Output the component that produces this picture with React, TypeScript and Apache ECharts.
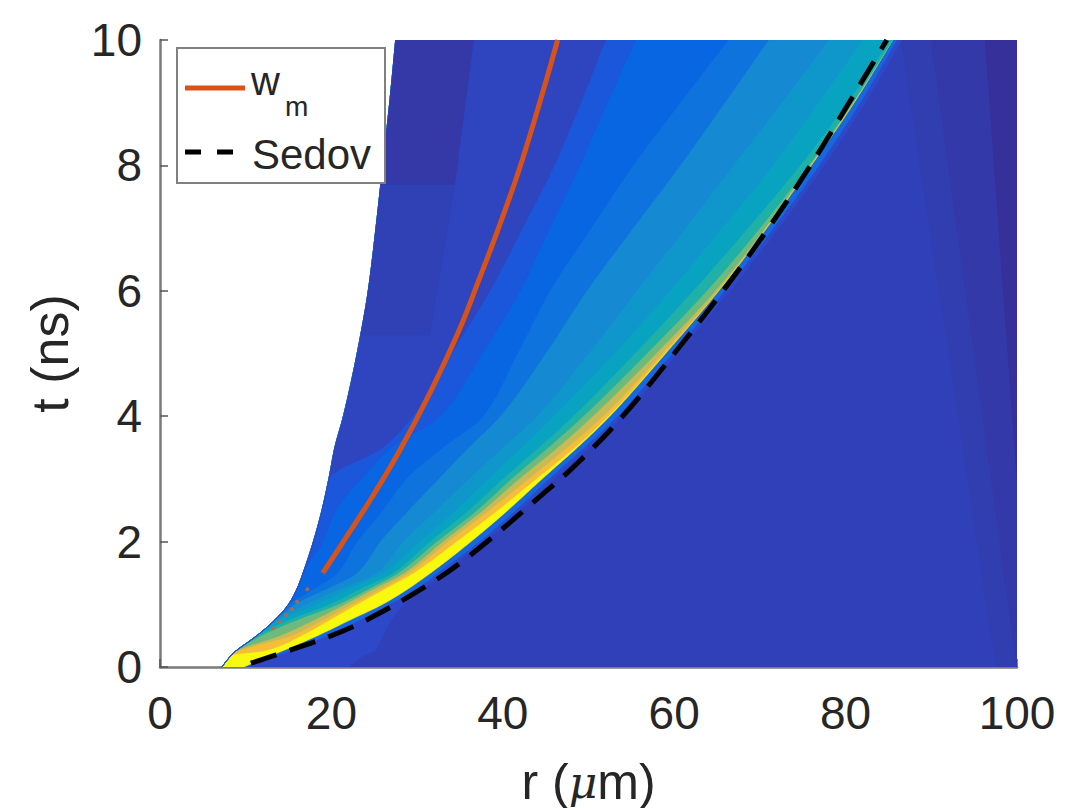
import React, { useEffect, useRef } from "react";
import * as echarts from "echarts";

const FONT = "'Liberation Sans', Arial, sans-serif";
const INK = "#262626";

// time rows (ns) at which the field's colour contours were read
const rowT = [0, 0.2, 0.25, 0.5, 0.75, 1, 1.25, 1.5, 2, 2.5, 3, 3.5, 4, 5, 6, 7, 8, 9, 10];
// inner edge of the field (white to the left of it)
const innerEdge = [7.2, 8.4, 8.8, 11.3, 13.4, 15, 16, 16.7, 17.9, 18.9, 19.7, 20.4, 21.4, 23, 24.3, 25.2, 26, 26.8, 27.5];
// outer limits of each colour band, in r (um), from outermost to innermost
const postShock = [22, 24, 25, 26, 27, 28.5, 30.8, 33, 37.9, 42.1, 46, 50.1, 54, 60.4, 66.5, 72.2, 77.5, 82.3, 86.6];
const fringe = [10, 14, 15, 19.5, 23.4, 26.8, 30, 32.4, 37.3, 41.5, 45.4, 49.5, 53.4, 59.8, 65.9, 71.6, 76.9, 81.7, 86];
const yellow = [9.8, 13.3, 14.2, 18.4, 22.2, 26, 29, 31.6, 36.3, 40.6, 44.6, 48.7, 52.5, 59, 65.2, 70.8, 76, 81, 85.5];
const orange = [7.2, 8.4, 12, 16.5, 19.8, 23, 26.3, 29.6, 34.6, 39.4, 43.9, 48.4, 52.3, 58.9, 65.15, 70.75, 75.95, 80.95, 85.5];
const khaki = [7.2, 8.4, 9, 15.3, 19, 22.4, 25.8, 29, 33.6, 38.4, 43, 47.5, 51.7, 58.6, 65.1, 70.7, 75.9, 80.9, 85.5];
const green = [7.2, 8.4, 8.8, 14, 18, 21.6, 25, 28.5, 33, 37.7, 41.9, 46.4, 50.5, 57.9, 64.8, 70.6, 75.85, 80.9, 85.5];
const seaGreen = [7.2, 8.4, 8.8, 11.8, 16, 20.8, 24.4, 27.8, 32.3, 37, 41, 45.3, 49.4, 56.8, 63.8, 70, 75.7, 80.8, 85.5];
const teal = [7.2, 8.4, 8.8, 11.3, 15, 19.8, 23.4, 27.2, 31.5, 36, 40, 44.2, 48.2, 55.4, 62.2, 68.6, 74.7, 80.2, 85.2];
const cyanBlue = [7.2, 8.4, 8.8, 11.3, 13.8, 18.3, 22, 26, 30.3, 34.5, 38.3, 42.2, 45.9, 53, 59.5, 65.6, 71.5, 76.8, 82];
const skyBlue = [7.2, 8.4, 8.8, 11.3, 13.4, 17, 21, 25.3, 28.4, 32.2, 36, 40, 44, 50, 55.6, 61.3, 66.9, 72.5, 78];
const midBlue = [7.2, 8.4, 8.8, 11.3, 13.4, 15.7, 19.5, 23, 25.7, 29, 32.5, 36, 39.7, 45, 49.8, 55.2, 60.7, 65.9, 71];
const pureBlue = [7.2, 8.4, 8.8, 11.3, 13.4, 15, 18, 20.7, 23, 26, 28.7, 33, 37.7, 41.7, 45.5, 50.3, 55.2, 60.7, 66.3];
const royal = [7.2, 8.4, 8.8, 11.3, 13.4, 15, 16, 16.7, 19, 20.5, 23.5, 27, 32.7, 37.6, 42, 45.5, 49, 52.2, 55.5];
const indigo = [7.2, 8.4, 8.8, 11.3, 13.4, 15, 16, 16.7, 17.9, 18.9, 19.7, 26, 29.5, 34, 38.5, 42.3, 46, 49.1, 52];

const bandCurves = [postShock, fringe, yellow, orange, khaki, green, seaGreen, teal, cyanBlue, skyBlue, midBlue, pureBlue, royal, indigo];
const bandColors = ["#2D48C8", "#1568DE", "#F9F90E", "#F5BD3A", "#C8BB56", "#6EBA7C", "#1FB0A8", "#09A3C2", "#0F97CC", "#1589D2", "#0E73DD", "#0866E3", "#1A57DA", "#2F45C0"];

// stepped dark blocks next to the inner edge: [t0, t1, r at t0, r at t1]
const blockSpans = [[5.3, 7.7, 31.5, 34.4], [7.7, 10, 34.4, 36.6]];
const blockColors = ["#3040B5", "#3539A8"];

// ambient gas beyond the shock: fan wedges ending at r = 100
const fanCorners = [
  [[86.5, 10], [100, 10], [100, 0], [97.5, 0]],
  [[90, 10], [100, 10], [100, 0]],
  [[96.3, 10], [100, 10], [100, 3]],
];
const fanColors = ["#313EB0", "#3339A8", "#36309A"];
const ambientColor = "#3040B8";

const wmT = [1.5, 2, 2.7, 3.46, 4.4, 5.37, 6.17, 7, 7.93, 9, 10];
const wmR = [19, 21.4, 24.7, 28, 31.6, 34.9, 37.2, 39.5, 41.9, 44.3, 46.4];
const wmDotT = [1.24, 1.04, 0.92, 0.83, 0.72, 0.62];
const wmDotR = [17.2, 16, 15.4, 14.7, 14, 13.2];
const sedovT = [0.06, 0.11, 0.27, 0.5, 0.75, 1.26, 1.75, 2.82, 3.25, 4, 5, 6, 7, 8, 9, 10];
const sedovR = [10.6, 11.7, 15.2, 20, 24.1, 30.7, 35.9, 45.2, 48.7, 54, 60, 65.7, 71, 75.9, 80.4, 84.8];

// Monotone cubic through the read rows, used only to draw the contours as smooth outlines.
function monotone(xs: number[], ys: number[]) {
  const n = xs.length;
  const d: number[] = [];
  for (let i = 0; i < n - 1; i++) d.push((ys[i + 1] - ys[i]) / (xs[i + 1] - xs[i]));
  const m: number[] = [d[0]];
  for (let i = 1; i < n - 1; i++) {
    m.push(d[i - 1] * d[i] <= 0 ? 0 : (2 * d[i - 1] * d[i]) / (d[i - 1] + d[i]));
  }
  m.push(d[n - 2]);
  return (x: number) => {
    let i = 0;
    while (i < n - 2 && x > xs[i + 1]) i++;
    const h = xs[i + 1] - xs[i];
    const s = (x - xs[i]) / h;
    return (
      (1 + 2 * s) * (1 - s) * (1 - s) * ys[i] +
      s * (1 - s) * (1 - s) * h * m[i] +
      s * s * (3 - 2 * s) * ys[i + 1] +
      s * s * (s - 1) * h * m[i + 1]
    );
  };
}
const innerAt = monotone(rowT, innerEdge);
const drawT: number[] = [];
rowT.forEach((t, i) => {
  drawT.push(t);
  if (i < rowT.length - 1) {
    const steps = Math.max(1, Math.round((rowT[i + 1] - t) / 0.05));
    for (let k = 1; k < steps; k++) drawT.push(t + ((rowT[i + 1] - t) * k) / steps);
  }
});
const innerPath = drawT.map((t) => [innerAt(t), t]);

type Poly = { pts: number[][]; color: string };
const polygons: Poly[] = [];
polygons.push({ pts: [...innerPath, [100, 10], [100, 0]], color: ambientColor });
fanCorners.forEach((pts, i) => polygons.push({ pts, color: fanColors[i] }));
bandCurves.forEach((curve, i) => {
  const at = monotone(rowT, curve);
  const right = drawT.map((t) => [Math.max(at(t), innerAt(t)), t]);
  polygons.push({ pts: [...right, ...innerPath.slice().reverse()], color: bandColors[i] });
});
blockSpans.forEach(([t0, t1, r0, r1], i) => {
  const edge = innerPath.filter((q) => q[1] >= t0 && q[1] <= t1);
  polygons.push({ pts: [[r0, t0], [r1, t1], ...edge.slice().reverse()], color: blockColors[i] });
});

const zipRT = (r: number[], t: number[]) => r.map((v, i) => [v, t[i]]);

export default function App() {
  const ref = useRef<HTMLDivElement>(null);
  useEffect(() => {
    const chart = echarts.init(ref.current!, undefined, { renderer: "svg" });
    chart.setOption({
      animation: false,
      backgroundColor: "#ffffff",
      grid: { left: 160, top: 40, width: 857, height: 627, outerBoundsMode: "none" },
      xAxis: {
        type: "value", min: 0, max: 100, interval: 20,
        name: "{a|r (}{b|\u03bc}{a|m)}", nameLocation: "middle", nameGap: 90,
        nameTextStyle: { rich: { a: { fontFamily: FONT, fontSize: 50, color: INK }, b: { fontFamily: "'DejaVu Serif', serif", fontStyle: "italic", fontSize: 44, color: INK } } },
        splitLine: { show: false },
        axisLine: { show: true, onZero: false, lineStyle: { color: "#7a7a7a", width: 2.5 } },
        axisTick: { show: true, inside: true, length: 8, lineStyle: { color: "#555555", width: 1.5 } },
        axisLabel: { fontFamily: FONT, fontSize: 46, color: INK, margin: 23 },
      },
      yAxis: {
        type: "value", min: 0, max: 10, interval: 2,
        name: "t (ns)", nameLocation: "middle", nameGap: 84, nameRotate: 90,
        nameTextStyle: { fontFamily: FONT, fontSize: 52, color: INK },
        splitLine: { show: false },
        axisLine: { show: true, onZero: false, lineStyle: { color: "#7a7a7a", width: 2.5 } },
        axisTick: { show: true, inside: true, length: 8, lineStyle: { color: "#555555", width: 1.5 } },
        axisLabel: { fontFamily: FONT, fontSize: 46, color: INK, margin: 18 },
      },
      series: [
        {
          type: "custom", coordinateSystem: "cartesian2d", silent: true, clip: true,
          data: polygons.map((_, i) => [i]),
          encode: { x: 0 },
          renderItem: (_p: any, api: any) => {
            const poly = polygons[api.value(0)];
            return {
              type: "polygon",
              shape: { points: poly.pts.map((q) => api.coord(q)) },
              style: { fill: poly.color, stroke: poly.color, lineWidth: 0.4 },
            };
          },
          z: 2,
        },
        {
          type: "scatter", name: "wm dots", silent: true, symbolSize: 4, z: 3,
          itemStyle: { color: "#C7663A" }, data: zipRT(wmDotR, wmDotT),
        },
        {
          type: "line", name: "w_m", silent: true, symbol: "none", smooth: 0.4, z: 4,
          lineStyle: { color: "#D95319", width: 5 }, data: zipRT(wmR, wmT),
        },
        {
          type: "line", name: "Sedov", silent: true, symbol: "none", smooth: 0.4, z: 4,
          lineStyle: { color: "#000000", width: 5, type: [27, 14] }, data: zipRT(sedovR, sedovT),
        },
      ],
      graphic: [
        { type: "rect", z: 10, shape: { x: 177, y: 48, width: 208, height: 135 }, style: { fill: "#ffffff", stroke: "#808080", lineWidth: 2 } },
        { type: "line", z: 11, shape: { x1: 185, y1: 88, x2: 245, y2: 88 }, style: { stroke: "#D95319", lineWidth: 5 } },
        { type: "line", z: 11, shape: { x1: 185, y1: 152, x2: 233, y2: 152 }, style: { stroke: "#000000", lineWidth: 5, lineDash: [16, 16] } },
        { type: "text", z: 11, x: 251, y: 81, style: { text: "w", fill: INK, font: `40px ${FONT}`, verticalAlign: "middle" } },
        { type: "text", z: 11, x: 285, y: 106, style: { text: "m", fill: INK, font: `28px ${FONT}`, verticalAlign: "middle" } },
        { type: "text", z: 11, x: 252, y: 154, style: { text: "Sedov", fill: INK, font: `42px ${FONT}`, verticalAlign: "middle" } },
      ],
    });
    return () => chart.dispose();
  }, []);
  return <div ref={ref} style={{ position: "fixed", left: 0, top: 0, width: 1090, height: 808 }} />;
}
